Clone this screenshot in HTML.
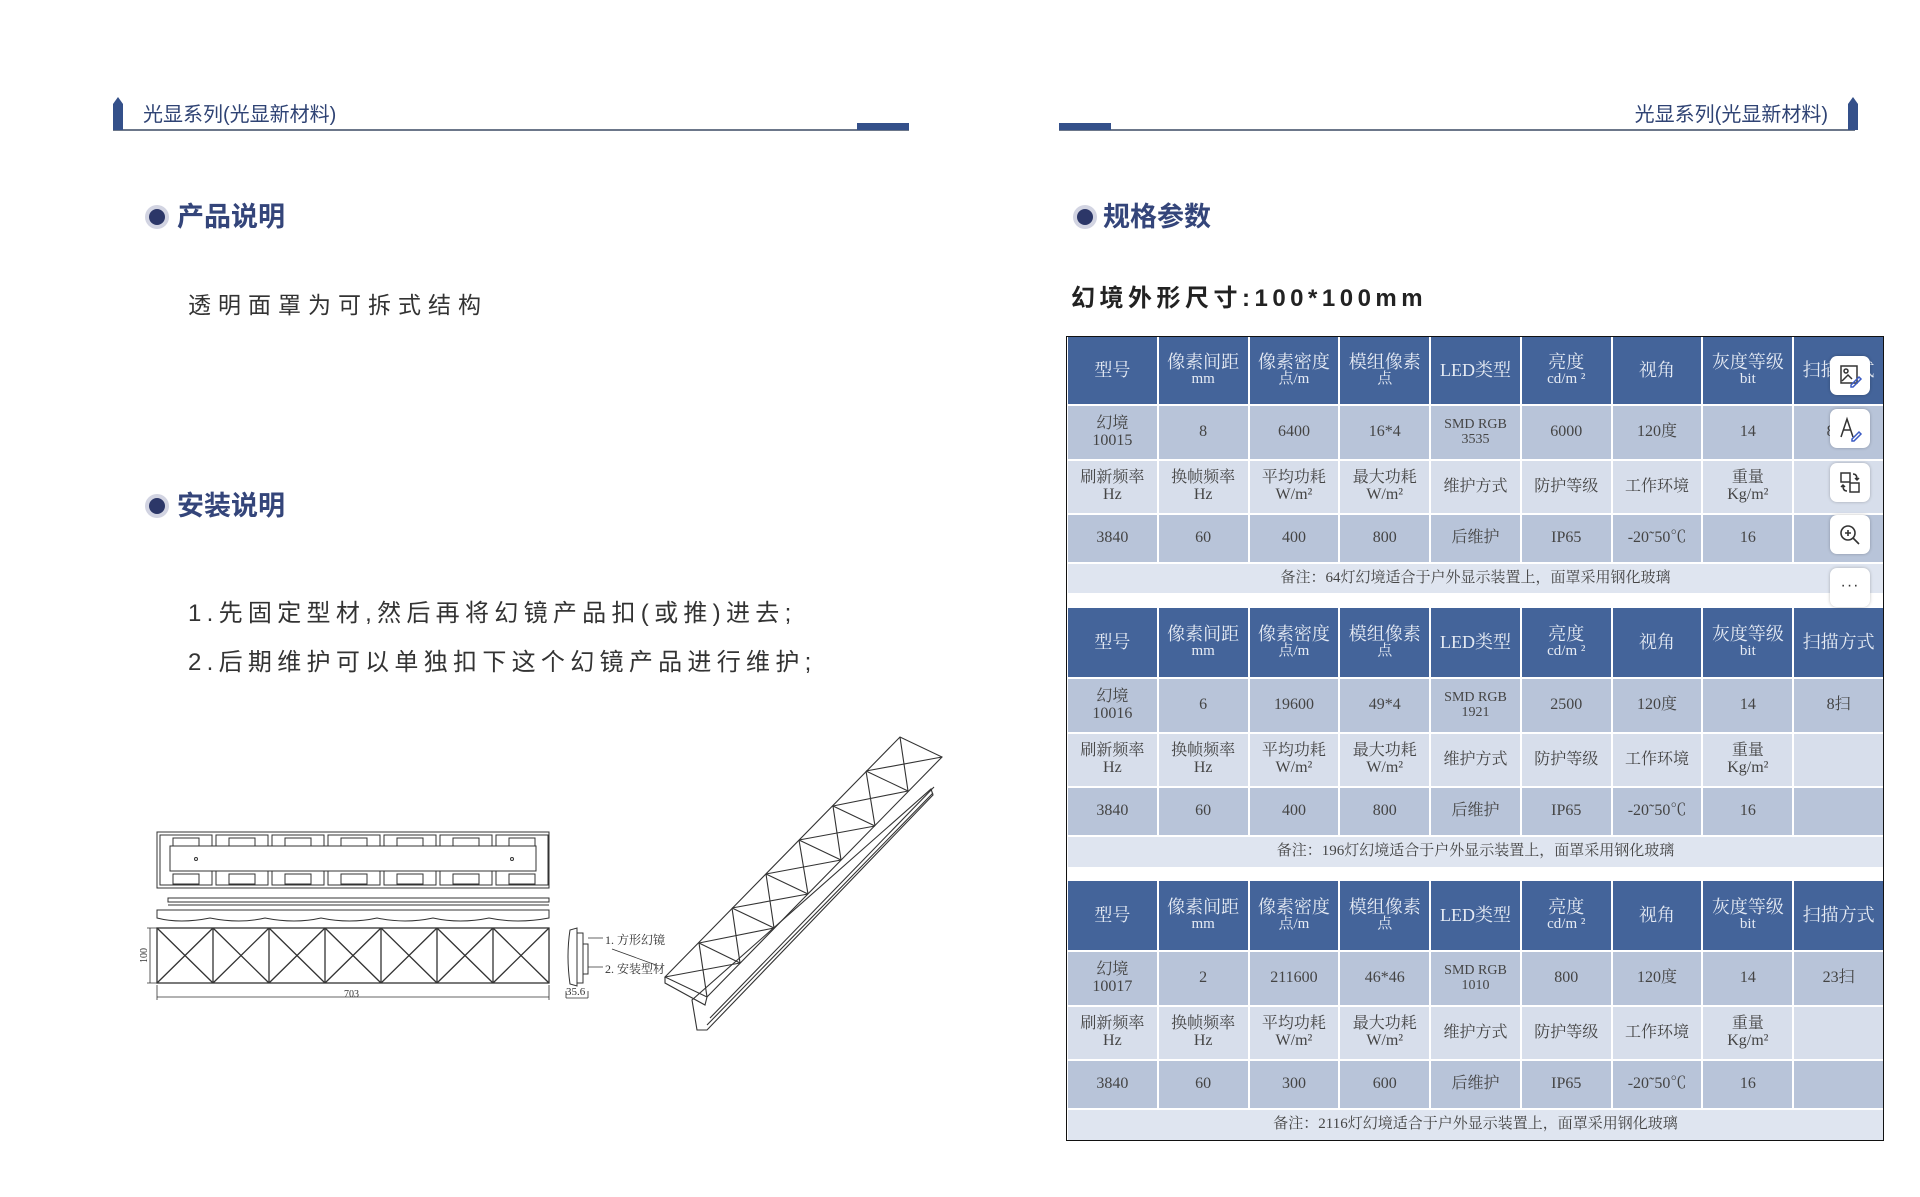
<!DOCTYPE html>
<html><head><meta charset="utf-8">
<style>
*{margin:0;padding:0;box-sizing:border-box}
body{width:1920px;height:1197px;background:#fff;position:relative;overflow:hidden;font-family:"Liberation Sans","Noto Sans CJK SC",sans-serif}
.abs{position:absolute}
.hdr{font-size:20px;color:#2f4374;white-space:nowrap}
.sec{font-size:27px;font-weight:bold;color:#34457a;white-space:nowrap;line-height:1}
.dot{position:absolute;width:24px;height:24px;border-radius:50%;background:#d2d4e2}
.dot:after{content:"";position:absolute;left:4px;top:4px;width:16px;height:16px;border-radius:50%;background:#2c3768}
.tbl{position:absolute;left:1068px;width:815px;display:grid;grid-template-columns:repeat(9,1fr);gap:2px;background:#fff;font-family:"Liberation Serif","Noto Serif CJK SC",serif}
.tbl div{display:flex;flex-direction:column;align-items:center;justify-content:center;text-align:center;line-height:1.05;font-size:16px;color:#444;white-space:nowrap;overflow:hidden}
.tbl .h{background:#44649a;color:#e6ebf4;font-size:18px}
.tbl .h small{font-size:15px}
.tbl .a{background:#b8c4d9}
.tbl .b{background:#d7deeb}
.tbl .n{grid-column:1/10;background:#dfe5f0;font-size:15px}
.tbl small{font-size:14px}
.btn{position:absolute;left:1830px;width:40px;height:39px;background:#fff;border-radius:7px;box-shadow:0 0 3px rgba(0,0,0,.25)}
</style></head><body>

<!-- headers -->
<svg class="abs" style="left:0;top:0" width="1920" height="140">
<line x1="113" y1="130" x2="909" y2="130" stroke="#3b4a63" stroke-width="1.5"/>
<rect x="857" y="123" width="52" height="7" fill="#34508a"/>
<path d="M113 130 V104 L118 97 L123 104 V130 Z" fill="#34508a"/>
<line x1="1059" y1="130" x2="1855" y2="130" stroke="#3b4a63" stroke-width="1.5"/>
<rect x="1059" y="123" width="52" height="7" fill="#34508a"/>
<path d="M1848 130 V104 L1853 97 L1858 104 V130 Z" fill="#34508a"/>
</svg>
<div class="abs hdr" style="left:143px;top:98px">光显系列(光显新材料)</div>
<div class="abs hdr" style="left:1624px;top:98px;width:204px;text-align:right">光显系列(光显新材料)</div>

<!-- left sections -->
<div class="dot" style="left:145px;top:205px"></div>
<div class="abs sec" style="left:177px;top:204px">产品说明</div>
<div class="abs" style="left:188px;top:286px;font-size:23px;letter-spacing:7px;color:#333">透明面罩为可拆式结构</div>
<div class="dot" style="left:145px;top:494px"></div>
<div class="abs sec" style="left:177px;top:493px">安装说明</div>
<div class="abs" style="left:188px;top:593px;font-size:24px;letter-spacing:5.3px;color:#333;white-space:nowrap">1.先固定型材,然后再将幻镜产品扣(或推)进去;</div>
<div class="abs" style="left:188px;top:642px;font-size:24px;letter-spacing:5.3px;color:#333;white-space:nowrap">2.后期维护可以单独扣下这个幻镜产品进行维护;</div>

<!-- right sections -->
<div class="dot" style="left:1073px;top:205px"></div>
<div class="abs sec" style="left:1103px;top:204px">规格参数</div>
<div class="abs" style="left:1071px;top:278px;font-size:24px;font-weight:bold;letter-spacing:4.5px;color:#222;white-space:nowrap">幻境外形尺寸:100*100mm</div>

<!-- drawings -->
<svg class="abs" style="left:0;top:0" width="1000" height="1197" fill="none" stroke="#333" stroke-width="1">
<!-- top view -->
<rect x="157" y="832" width="392" height="56"/>
<g id="tv">
<rect x="160" y="835" width="52" height="50"/>
<rect x="173" y="838" width="26" height="10"/><rect x="173" y="874" width="26" height="10"/>
</g>
<use href="#tv" x="56"/><use href="#tv" x="112"/><use href="#tv" x="168"/><use href="#tv" x="224"/><use href="#tv" x="280"/><use href="#tv" x="336"/>
<rect x="170" y="846" width="366" height="25" fill="#fff"/>
<circle cx="196" cy="859" r="1.5"/><circle cx="512" cy="859" r="1.5"/>
<!-- strip -->
<rect x="168" y="898" width="381" height="4"/>
<line x1="168" y1="905" x2="549" y2="905"/>
<path d="M157 918 Q180 924 210 918 Q240 924 265 918 Q295 924 321 918 Q350 924 377 918 Q405 924 433 918 Q460 924 489 918 Q517 924 549 918 L549 910 L157 910 Z"/>
<!-- front X boxes -->
<g stroke-width="1.3">
<rect x="157" y="928" width="392" height="55"/>
<path d="M213 928V983M269 928V983M325 928V983M381 928V983M437 928V983M493 928V983"/>
<path d="M157 928L213 983M213 928L157 983M213 928L269 983M269 928L213 983M269 928L325 983M325 928L269 983M325 928L381 983M381 928L325 983M381 928L437 983M437 928L381 983M437 928L493 983M493 928L437 983M493 928L549 983M549 928L493 983"/>
</g>
<path d="M147 928H157M147 983H157M150 928V983" stroke-width=".8"/>
<path d="M157 985V1000M549 985V1000M157 997H549" stroke-width=".8"/>
<!-- side view -->
<path d="M570 930 Q566 956 570 984 L577 986 L577 928 Z"/>
<rect x="577" y="933" width="6" height="50"/>
<rect x="583" y="944" width="5" height="30"/>
<path d="M588 938H603M588 967H603" stroke-width=".8"/>
<path d="M566 991V998M588 991V998M566 998H588" stroke-width=".8"/>
<!-- isometric: 7 boxes, u=(33.6,-34.3), v=(41.7,20) -->
<g stroke-width="1.1">
<path d="M665 977 L900 737 L942 757 L707 997 Z"/>
<path d="M699 943L740 963M732 908L774 928M766 874L808 894M799 840L841 860M833 806L875 826M866 771L908 791"/>
<path d="M665 977L740 963M699 943L707 997M699 943L774 928M732 908L740 963M732 908L808 894M766 874L774 928M766 874L841 860M799 840L808 894M799 840L875 826M833 806L841 860M833 806L908 791M866 771L875 826M866 771L942 757M900 737L908 791"/>
<path d="M665 977 L665 983 L705 1005 L707 997"/>
<path d="M692 1000 L697 1030 L707 1030 L933 795 L931 789 Z"/>
<path d="M707 1025 L933 793 M710 1018 L934 787"/>
<path d="M612 949 L656 965" stroke-width=".8"/>
</g>
</svg>
<div class="abs" style="left:605px;top:931px;font-size:12px;color:#333;font-family:'Liberation Serif','Noto Serif CJK SC',serif;white-space:nowrap">1. 方形幻镜</div>
<div class="abs" style="left:605px;top:960px;font-size:12px;color:#333;font-family:'Liberation Serif','Noto Serif CJK SC',serif;white-space:nowrap">2. 安装型材</div>
<div class="abs" style="left:566px;top:986px;font-size:11px;color:#333;font-family:'Liberation Serif',serif">35.6</div>
<div class="abs" style="left:344px;top:989px;font-size:10px;color:#333;font-family:'Liberation Serif',serif">703</div>
<div class="abs" style="left:137px;top:950px;font-size:10px;color:#333;font-family:'Liberation Serif',serif;transform:rotate(-90deg)">100</div>

<!-- table frame -->
<div class="abs" style="left:1066px;top:336px;width:818px;height:805px;border:1px solid #111"></div>

<!-- table 1 -->
<div class="tbl" style="top:337px;grid-template-rows:67px 53px 52px 47px 29px">
<div class="h">型号</div><div class="h">像素间距<small>mm</small></div><div class="h">像素密度<small>点/m</small></div><div class="h">模组像素<small>点</small></div><div class="h">LED类型</div><div class="h">亮度<small>cd/m ²</small></div><div class="h">视角</div><div class="h">灰度等级<small>bit</small></div><div class="h">扫描方式</div>
<div class="a">幻境<span>10015</span></div><div class="a">8</div><div class="a">6400</div><div class="a">16*4</div><div class="a"><small>SMD RGB</small><small>3535</small></div><div class="a">6000</div><div class="a">120度</div><div class="a">14</div><div class="a">8扫</div>
<div class="b">刷新频率<span>Hz</span></div><div class="b">换帧频率<span>Hz</span></div><div class="b">平均功耗<span>W/m²</span></div><div class="b">最大功耗<span>W/m²</span></div><div class="b">维护方式</div><div class="b">防护等级</div><div class="b">工作环境</div><div class="b">重量<span>Kg/m²</span></div><div class="b"></div>
<div class="a">3840</div><div class="a">60</div><div class="a">400</div><div class="a">800</div><div class="a">后维护</div><div class="a">IP65</div><div class="a">-20˜50℃</div><div class="a">16</div><div class="a"></div>
<div class="n">备注：64灯幻境适合于户外显示装置上，面罩采用钢化玻璃</div>
</div>

<!-- table 2 -->
<div class="tbl" style="top:608px;grid-template-rows:69px 53px 52px 47px 30px">
<div class="h">型号</div><div class="h">像素间距<small>mm</small></div><div class="h">像素密度<small>点/m</small></div><div class="h">模组像素<small>点</small></div><div class="h">LED类型</div><div class="h">亮度<small>cd/m ²</small></div><div class="h">视角</div><div class="h">灰度等级<small>bit</small></div><div class="h">扫描方式</div>
<div class="a">幻境<span>10016</span></div><div class="a">6</div><div class="a">19600</div><div class="a">49*4</div><div class="a"><small>SMD RGB</small><small>1921</small></div><div class="a">2500</div><div class="a">120度</div><div class="a">14</div><div class="a">8扫</div>
<div class="b">刷新频率<span>Hz</span></div><div class="b">换帧频率<span>Hz</span></div><div class="b">平均功耗<span>W/m²</span></div><div class="b">最大功耗<span>W/m²</span></div><div class="b">维护方式</div><div class="b">防护等级</div><div class="b">工作环境</div><div class="b">重量<span>Kg/m²</span></div><div class="b"></div>
<div class="a">3840</div><div class="a">60</div><div class="a">400</div><div class="a">800</div><div class="a">后维护</div><div class="a">IP65</div><div class="a">-20˜50℃</div><div class="a">16</div><div class="a"></div>
<div class="n">备注：196灯幻境适合于户外显示装置上，面罩采用钢化玻璃</div>
</div>

<!-- table 3 -->
<div class="tbl" style="top:881px;grid-template-rows:69px 53px 52px 47px 30px">
<div class="h">型号</div><div class="h">像素间距<small>mm</small></div><div class="h">像素密度<small>点/m</small></div><div class="h">模组像素<small>点</small></div><div class="h">LED类型</div><div class="h">亮度<small>cd/m ²</small></div><div class="h">视角</div><div class="h">灰度等级<small>bit</small></div><div class="h">扫描方式</div>
<div class="a">幻境<span>10017</span></div><div class="a">2</div><div class="a">211600</div><div class="a">46*46</div><div class="a"><small>SMD RGB</small><small>1010</small></div><div class="a">800</div><div class="a">120度</div><div class="a">14</div><div class="a">23扫</div>
<div class="b">刷新频率<span>Hz</span></div><div class="b">换帧频率<span>Hz</span></div><div class="b">平均功耗<span>W/m²</span></div><div class="b">最大功耗<span>W/m²</span></div><div class="b">维护方式</div><div class="b">防护等级</div><div class="b">工作环境</div><div class="b">重量<span>Kg/m²</span></div><div class="b"></div>
<div class="a">3840</div><div class="a">60</div><div class="a">300</div><div class="a">600</div><div class="a">后维护</div><div class="a">IP65</div><div class="a">-20˜50℃</div><div class="a">16</div><div class="a"></div>
<div class="n">备注：2116灯幻境适合于户外显示装置上，面罩采用钢化玻璃</div>
</div>

<!-- floating toolbar -->
<div class="btn" style="top:356px"><svg width="40" height="39" fill="none" stroke="#333" stroke-width="1.5"><rect x="11" y="10" width="16" height="17"/><circle cx="16" cy="15" r="2"/><path d="M12 25l6-6 4 4"/><path d="M21 29l8-8 2 2-8 8h-2z" stroke="#3b5bc4"/></svg></div>
<div class="btn" style="top:409px"><svg width="40" height="39" fill="none" stroke="#333" stroke-width="1.5"><path d="M11 28L17 10L23 28M13.5 21H20.5"/><path d="M22 30l7-7 2 2-7 7h-2z" stroke="#3b5bc4"/></svg></div>
<div class="btn" style="top:463px"><svg width="40" height="39" fill="none" stroke="#333" stroke-width="1.5"><rect x="11" y="10" width="9" height="9"/><rect x="20" y="20" width="9" height="9"/><path d="M23 11q4 0 4 5m-2-1l2 2 2-2M17 28q-4 0-4-5m-2 1l2-2 2 2"/></svg></div>
<div class="btn" style="top:515px"><svg width="40" height="39" fill="none" stroke="#333" stroke-width="1.6"><circle cx="18" cy="18" r="7"/><path d="M23 23l6 6M18 15v6M15 18h6"/></svg></div>
<div class="btn" style="top:568px"><div style="text-align:center;font-size:16px;line-height:36px;color:#333;letter-spacing:1px">···</div></div>

</body></html>
